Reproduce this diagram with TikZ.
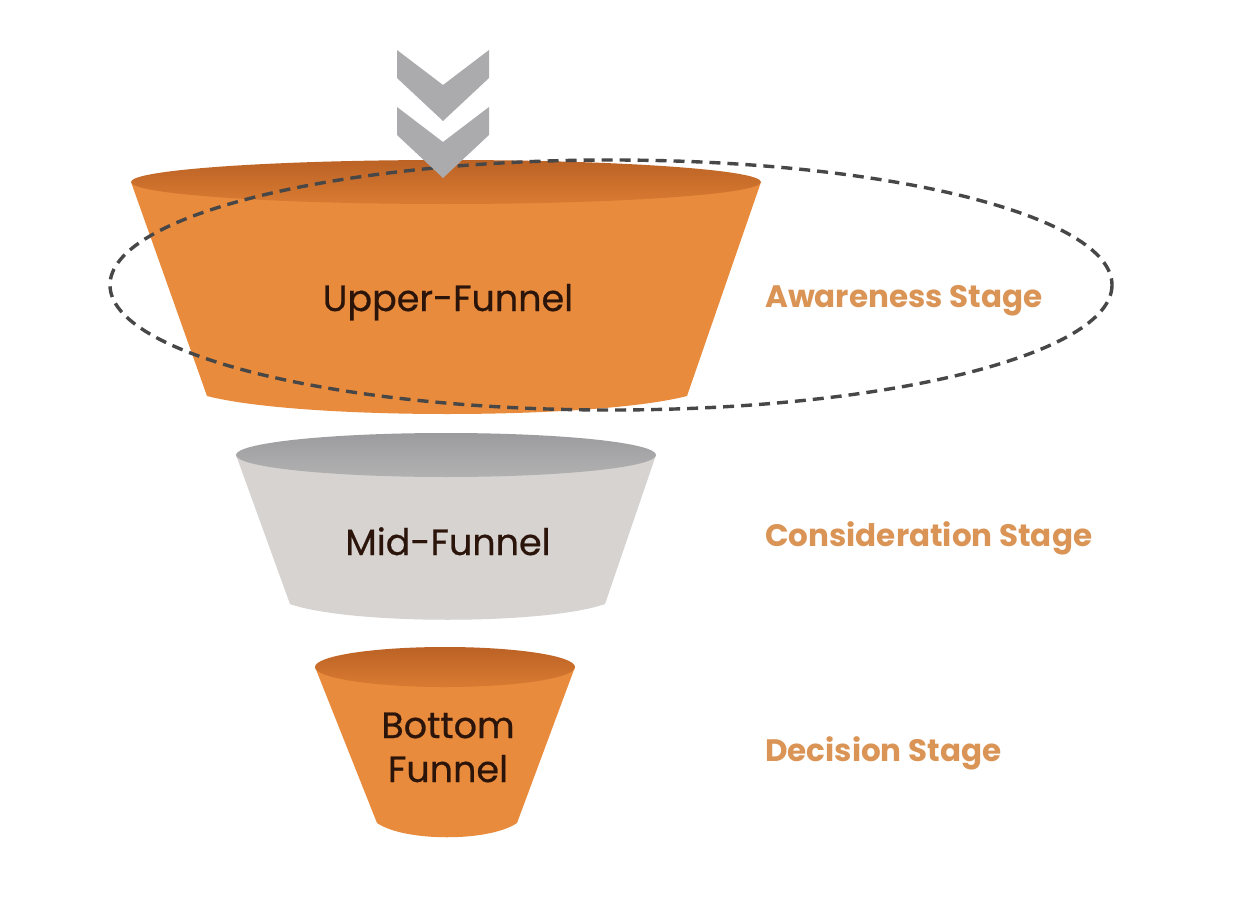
\documentclass[tikz,border=0pt]{standalone}
\usepackage{fontspec}
\setmainfont{Poppins}
\newfontfamily\funnelfont[FakeBold=0.6]{Poppins}
\begin{document}
\begin{tikzpicture}[x=1pt,y=-1pt,
  orangebody/.style={fill=orBody},
  label/.style={font=\funnelfont\fontsize{36.5}{42}\selectfont, text=txtDark, inner sep=0pt},
  stagelabel/.style={font=\bfseries\fontsize{31}{36}\selectfont, text=stageOr, inner sep=0pt, anchor=base west},
  chev/.style={fill=chevGray},
  dashring/.style={draw=dashGray, line width=3.4pt, dash pattern=on 11pt off 7pt}
]
\definecolor{orBody}{HTML}{E98B3D}
\definecolor{orTopA}{HTML}{BB6225}
\definecolor{orTopB}{HTML}{D97B32}
\definecolor{grBody}{HTML}{D6D3D1}
\definecolor{grTopA}{HTML}{9C9C9E}
\definecolor{grTopB}{HTML}{B2B1B2}
\definecolor{chevGray}{HTML}{ABABAD}
\definecolor{dashGray}{HTML}{474747}
\definecolor{txtDark}{HTML}{2B140A}
\definecolor{stageOr}{HTML}{DA9455}
\useasboundingbox (0,0) rectangle (1250,923);
\fill[white] (0,0) rectangle (1250,923);

% ---- top funnel
\coordinate (t1) at (131,182);
\coordinate (t2) at (207,396);
\coordinate (t3) at (687,396);
\coordinate (t4) at (761,182);
\fill[orangebody] (t1) -- (t2) .. controls (300,420) and (594,420) .. (t3) -- (t4) -- cycle;
\shade[top color=orTopA, bottom color=orTopB] (446,182) ellipse [x radius=315, y radius=22];

% ---- mid funnel
\coordinate (m1) at (236,455);
\coordinate (m2) at (290,604);
\coordinate (m3) at (605,604);
\coordinate (m4) at (656,455);
\fill[grBody] (m1) -- (m2) .. controls (350,625) and (545,625) .. (m3) -- (m4) -- cycle;
\shade[top color=grTopA, bottom color=grTopB] (446,455) ellipse [x radius=210, y radius=22];

% ---- bottom funnel
\coordinate (b1) at (315,667);
\coordinate (b2) at (377,823);
\coordinate (b3) at (517,823);
\coordinate (b4) at (575,667);
\fill[orangebody] (b1) -- (b2) .. controls (405,842) and (489,842) .. (b3) -- (b4) -- cycle;
\shade[top color=orTopA, bottom color=orTopB] (445,667) ellipse [x radius=130, y radius=20];

% ---- dashed ring
\draw[dashring] (611,285) ellipse [x radius=501, y radius=125];

% ---- chevrons
\fill[chev] (397,50) -- (443,85) -- (489,50) -- (489,78) -- (443,121) -- (397,78) -- cycle;
\fill[chev] (397,107) -- (443,142) -- (489,107) -- (489,135) -- (443,178) -- (397,135) -- cycle;

% ---- texts
\node[label, anchor=base] (upper) at (448,311) {Upper-Funnel};
\node[label, anchor=base] (mid) at (448,555) {Mid-Funnel};
\node[label, anchor=base] (bot1) at (448,738) {Bottom};
\node[label, anchor=base] (bot2) at (448,782) {Funnel};

\node[stagelabel] (aw) at (765,307) {Awareness Stage};
\node[stagelabel] (co) at (765,546) {Consideration Stage};
\node[stagelabel] (de) at (765,761) {Decision Stage};
\end{tikzpicture}
\end{document}
